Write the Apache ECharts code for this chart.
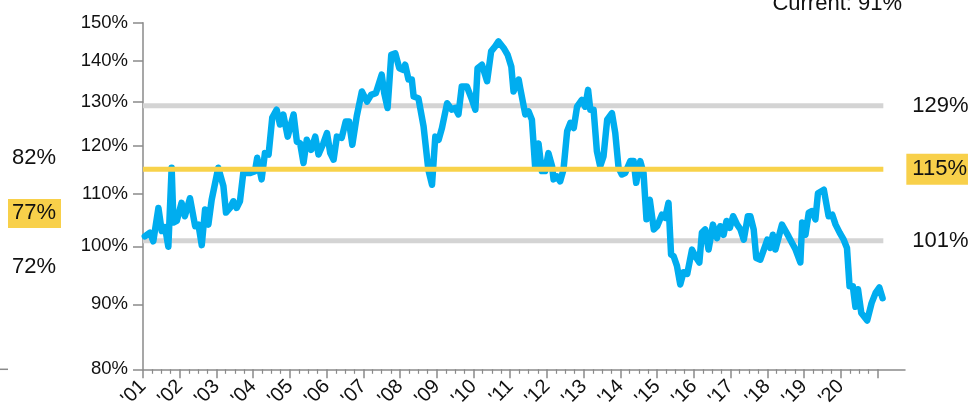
<!DOCTYPE html>
<html><head><meta charset="utf-8">
<script src="https://cdn.jsdelivr.net/npm/echarts@6/dist/echarts.min.js"></script>
<style>html,body{margin:0;padding:0;background:#fff}#c{width:974px;height:404px}</style>
</head><body><div id="c"></div>
<script>
// Decimal-year dates and ratio values (%)
const dates = [2001.05,2001.19,2001.28,2001.42,2001.51,2001.60,2001.69,2001.78,2001.83,2001.92,
2002.05,2002.14,2002.28,2002.42,2002.51,2002.60,2002.69,2002.78,2002.87,2003.05,
2003.19,2003.26,2003.37,2003.46,2003.55,2003.64,2003.73,2003.92,2004.05,2004.11,
2004.23,2004.32,2004.37,2004.42,2004.52,2004.64,2004.73,2004.82,2004.94,2005.10,
2005.19,2005.28,2005.37,2005.46,2005.58,2005.69,2005.78,2005.91,2006.01,2006.10,
2006.19,2006.28,2006.41,2006.52,2006.61,2006.70,2006.82,2006.96,2007.10,2007.21,
2007.34,2007.50,2007.57,2007.66,2007.76,2007.87,2007.91,2007.98,2008.09,2008.14,
2008.23,2008.32,2008.37,2008.50,2008.64,2008.77,2008.87,2008.96,2009.05,2009.14,
2009.28,2009.41,2009.50,2009.59,2009.68,2009.82,2009.96,2010.05,2010.11,2010.23,
2010.37,2010.48,2010.59,2010.68,2010.82,2010.93,2011.03,2011.09,2011.23,2011.27,
2011.41,2011.50,2011.59,2011.68,2011.77,2011.86,2011.95,2012.04,2012.14,2012.18,
2012.27,2012.36,2012.45,2012.55,2012.64,2012.73,2012.82,2012.95,2013.04,2013.12,
2013.18,2013.27,2013.36,2013.45,2013.54,2013.64,2013.77,2013.86,2013.95,2014.04,
2014.13,2014.27,2014.36,2014.43,2014.54,2014.63,2014.71,2014.80,2014.91,2015.00,
2015.13,2015.22,2015.31,2015.38,2015.45,2015.54,2015.63,2015.72,2015.82,2015.95,
2016.04,2016.15,2016.22,2016.31,2016.40,2016.52,2016.63,2016.72,2016.81,2016.89,
2016.98,2017.07,2017.18,2017.27,2017.36,2017.47,2017.54,2017.63,2017.70,2017.81,
2017.95,2018.00,2018.08,2018.15,2018.22,2018.40,2018.58,2018.77,2018.90,2018.95,
2019.04,2019.13,2019.22,2019.31,2019.38,2019.54,2019.67,2019.77,2019.86,2019.97,
2020.08,2020.17,2020.24,2020.33,2020.40,2020.47,2020.56,2020.72,2020.84,2020.95,
2021.05,2021.14];
const ratio = [101.8,102.5,100.9,107.2,102.8,103.5,99.9,115.3,104.4,104.7,
108.2,105.6,109.1,103.7,104.0,100.2,106.9,104.0,108.8,115.3,
111.5,106.3,107.2,108.5,107.2,108.5,114.2,114.2,114.6,117.4,
112.9,118.4,118.1,118.1,126.3,128.1,124.7,127.0,122.0,127.0,
120.9,120.5,116.3,121.3,119.1,122.0,118.1,120.5,122.8,118.4,
117.0,122.0,121.7,125.4,125.4,120.2,126.6,132.4,130.0,131.6,
132.0,136.5,132.0,128.5,141.5,141.9,141.5,138.1,137.7,139.0,
135.3,135.3,131.2,130.8,124.3,114.9,111.8,122.0,121.3,123.9,
129.6,128.1,128.5,127.0,133.6,133.6,130.4,128.1,138.1,139.0,
134.9,142.4,143.7,145.0,143.3,141.5,138.5,132.4,135.3,133.3,
127.0,127.7,125.8,115.3,120.5,114.6,114.6,118.4,115.6,112.9,
113.5,112.5,114.9,123.2,125.1,123.9,128.8,130.4,128.8,132.8,
128.1,128.1,118.8,115.6,117.7,125.8,127.3,122.8,115.3,113.9,
114.2,116.7,116.7,112.2,116.7,114.2,105.0,108.8,103.1,103.7,
105.9,105.3,108.2,98.5,98.2,96.5,93.3,95.4,95.1,99.4,
98.2,97.1,102.5,103.1,99.4,104.0,101.5,103.7,102.1,104.7,
103.4,105.6,104.0,103.1,101.2,105.6,105.6,103.1,97.9,97.6,
100.2,101.2,99.7,102.1,99.4,104.0,101.8,99.4,97.1,104.4,
102.1,106.3,106.6,105.0,110.1,110.8,105.6,105.9,104.0,102.5,
101.2,99.7,93.0,93.0,89.6,92.5,88.6,87.4,90.2,91.9,
92.8,91.0];
const yTicks = [80, 90, 100, 110, 120, 130, 140, 150];
const yearTicks = [2001,2002,2003,2004,2005,2006,2007,2008,2009,2010,2011,2012,2013,2014,2015,2016,2017,2018,2019,2020,2021];
const yearLabels = [2001,2002,2003,2004,2005,2006,2007,2008,2009,2010,2011,2012,2013,2014,2015,2016,2017,2018,2019,2020];
const upperBand = 129, avgBand = 115, lowerBand = 101;
const bandSpan = [2001, 2021.16];
const leftPanelLabels = ['82%', '77%', '72%'];

const FONT = 'Liberation Sans, Arial, Helvetica, sans-serif';
const quarterTicks = [];
for (let y = 2001; y < 2021; y++) { quarterTicks.push(y + 0.25, y + 0.5, y + 0.75); }

function bandSeries(val, color, z, label) {
  return {
    type: 'line', xAxisIndex: 0, yAxisIndex: 0, silent: true, symbol: 'none', z: z,
    data: bandSpan.map(d => [d, val]),
    lineStyle: { color: color, width: 5, cap: 'butt' },
    endLabel: Object.assign({ show: true, formatter: val + '%', fontSize: 22, fontFamily: FONT, color: '#111' }, label)
  };
}

const chart = echarts.init(document.getElementById('c'), null, { renderer: 'canvas' });
const last = ratio[ratio.length - 1];
chart.setOption({
  animation: false,
  backgroundColor: '#fff',
  grid: { left: 143, right: 69, top: 22.7, bottom: 34.7, containLabel: false, outerBoundsMode: 'none' },
  xAxis: [{
    type: 'value', min: 2001, max: 2021.75,
    axisLine: { show: true, lineStyle: { color: '#8a8a8a', width: 1.5 } },
    axisTick: { show: true, customValues: yearTicks, length: 9, lineStyle: { color: '#8a8a8a', width: 1.5 } },
    axisLabel: { customValues: yearLabels, rotate: 45, margin: 14, fontSize: 20, fontFamily: FONT, color: '#111',
      formatter: v => "'" + String(Math.round(v)).slice(2) },
    splitLine: { show: false }
  }, {
    type: 'value', min: 2001, max: 2021.75, position: 'bottom',
    axisLine: { show: false },
    axisTick: { show: true, customValues: quarterTicks, length: 4.5, lineStyle: { color: '#8a8a8a', width: 1.2 } },
    axisLabel: { show: false }, splitLine: { show: false }
  }],
  yAxis: {
    type: 'log', logBase: 10, min: 80, max: 150,
    axisLine: { show: true, lineStyle: { color: '#8a8a8a', width: 1.5 } },
    axisTick: { show: true, customValues: yTicks, length: 10, lineStyle: { color: '#8a8a8a', width: 1.5 } },
    axisLabel: { customValues: yTicks, margin: 15, fontSize: 18.5, fontFamily: FONT, color: '#111',
      formatter: v => Math.round(v) + '%' },
    splitLine: { show: false }, minorTick: { show: false }
  },
  series: [
    bandSeries(upperBand, '#d4d4d4', 1, { distance: 29 }),
    bandSeries(lowerBand, '#d4d4d4', 1, { distance: 29 }),
    {
      type: 'line', name: 'ratio', xAxisIndex: 0, symbol: 'none', z: 3,
      data: dates.map((d, i) => [d, ratio[i]]),
      lineStyle: { color: '#00adef', width: 6.5, cap: 'round', join: 'round' }
    },
    bandSeries(avgBand, '#f8d24a', 4, { distance: 23, backgroundColor: '#f8d04a', padding: [5, 1, 4, 6] })
  ],
  graphic: [
    { type: 'text', right: 72, top: -7, style: { text: 'Current: ' + Math.round(last) + '%', font: '22px ' + FONT, fill: '#111' } },
    { type: 'text', left: 12, top: 147, style: { text: leftPanelLabels[0], font: '22px ' + FONT, fill: '#111' } },
    { type: 'rect', left: 8, top: 199, shape: { width: 53, height: 29 }, style: { fill: '#f8d04a' } },
    { type: 'text', left: 12, top: 202, style: { text: leftPanelLabels[1], font: '22px ' + FONT, fill: '#111' } },
    { type: 'text', left: 12, top: 256, style: { text: leftPanelLabels[2], font: '22px ' + FONT, fill: '#111' } },
    { type: 'line', shape: { x1: 0, y1: 369.3, x2: 8, y2: 369.3 }, style: { stroke: '#8a8a8a', lineWidth: 1.5 } }
  ]
});
</script></body></html>
